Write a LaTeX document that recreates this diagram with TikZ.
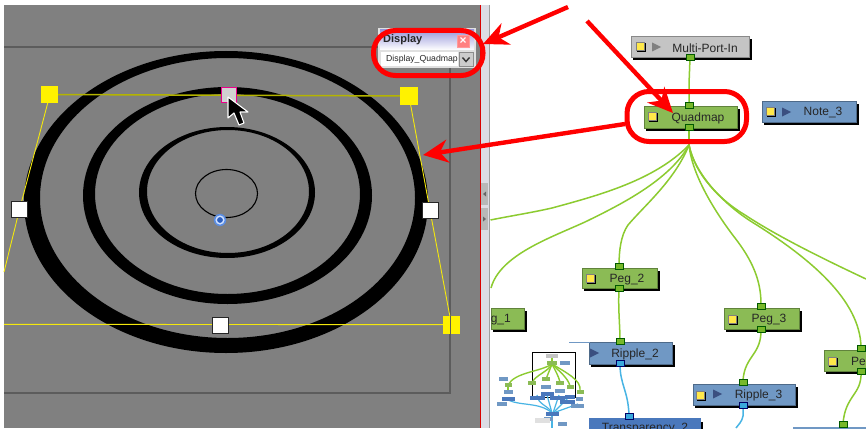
\documentclass[tikz,border=0pt]{standalone}
\usepackage{fontspec}
\setmainfont{Liberation Sans}
\usetikzlibrary{arrows.meta}
\definecolor{panelgray}{HTML}{808080}
\definecolor{framegray}{HTML}{5C5C5C}
\definecolor{sepgray}{HTML}{DCDCE4}
\definecolor{peggreen}{HTML}{8BBB55}
\definecolor{nodeblue}{HTML}{7098C4}
\definecolor{deepblue}{HTML}{4A78BC}
\definecolor{modgray}{HTML}{C4C4C4}
\definecolor{portgreen}{HTML}{77B82A}
\definecolor{portblue}{HTML}{3AA9DC}
\definecolor{wiregreen}{HTML}{8CCB30}
\definecolor{wireblue}{HTML}{48B4E4}
\definecolor{hlyellow}{HTML}{FFE84A}
\definecolor{tridark}{HTML}{3A4F80}
\definecolor{dotblue}{HTML}{5B8DE0}
\definecolor{dotlight}{HTML}{CFE0FF}
\definecolor{dotcore}{HTML}{2B5FC0}
\definecolor{olivey}{HTML}{B4B400}
\tikzset{
  x=1pt,y=-1pt,
  modbox/.style={draw=#1!70!black,fill=#1,line width=.8pt,minimum height=20pt,inner sep=0pt,anchor=center},
  pgreen/.style={modbox=peggreen},
  pblue/.style={modbox=nodeblue},
  pgray/.style={modbox=modgray},
  modtext/.style={inner sep=0pt,font=\fontsize{12}{13}\selectfont,text=black!85},
  portg/.style={draw=green!35!black,fill=portgreen,line width=.4pt,minimum width=8pt,minimum height=6pt,inner sep=0pt},
  portb/.style={draw=blue!40!black,fill=portblue,line width=.4pt,minimum width=8pt,minimum height=6pt,inner sep=0pt},
  wireg/.style={draw=wiregreen,line width=1.5pt},
  wireb/.style={draw=wireblue,line width=1.5pt},
  redmark/.style={draw=red,line width=5pt,rounded corners=22pt},
  redarrow/.style={draw=red,line width=4.4pt,-{Stealth[length=25pt,width=23pt,inset=8pt]}},
  yline/.style={draw=yellow!95!black,line width=.9pt},
  yhandle/.style={fill=yellow,draw=none,minimum size=17.5pt,inner sep=0pt},
  whandle/.style={fill=white,draw=black!85,line width=.9pt,minimum size=16pt,inner sep=0pt},
  minibox/.style={draw=none,inner sep=0pt,minimum width=#1,minimum height=3.2pt},
}
\newcommand{\modshadow}[4]{\fill[black] (#1+2,#2+3) rectangle (#3+3,#4+3);}
\newcommand{\yellowchip}[2]{\fill[black] (#1+1,#2+1) rectangle (#1+10,#2+10);\draw[black!50,fill=hlyellow,line width=.4pt] (#1,#2) rectangle (#1+8,#2+8);}
\newcommand{\playtri}[2]{\fill[#2] (#1) ++(-4,-4.5) -- ++(9,4.5) -- ++(-9,4.5) -- cycle;}
\begin{document}
\begin{tikzpicture}
\useasboundingbox (0,0) rectangle (866,428);
\fill[white] (0,0) rectangle (866,428);
% viewer panel
\fill[panelgray] (4,5) rectangle (480,428);
\draw[framegray,line width=1.2pt] (4,47) -- (450,47) -- (450,393) -- (4,393);
\fill[sepgray] (480,5) rectangle (489,428);
\draw[black!38,line width=1.5pt] (489.5,5) -- (489.5,428);
\draw[red!85!black,line width=.6pt] (480,5) -- (480,428);
\fill[black!28] (481,183) rectangle (488,205);
\fill[black!28] (481,208) rectangle (488,230);
\fill[black!60] (483,194) -- (486,191.5) -- (486,196.5) -- cycle;
\fill[black!60] (486,219) -- (483,216.5) -- (483,221.5) -- cycle;
% rings
\fill[black,even odd rule] (226,202) ellipse [x radius=202,y radius=151] (227.5,198) ellipse [x radius=187.5,y radius=140];
\fill[black,even odd rule] (227.5,195.5) ellipse [x radius=144.5,y radius=108.5] (227.5,194) ellipse [x radius=132.5,y radius=100];
\fill[black,even odd rule] (227,192.5) ellipse [x radius=88,y radius=65.5] (228,191.5) ellipse [x radius=81,y radius=61.5];
\draw[black,line width=1.1pt] (226.5,193.5) ellipse [x radius=31,y radius=24];
% yellow envelope
\draw[draw=olivey,line width=1.5pt] (50,94.5) -- (409,96);
\draw[yline] (50,94.5) -- (19.5,209.5) -- (4,272);
\draw[yline] (409,96) -- (430,210.5) -- (451.5,325);
\draw[yline] (4,324.3) -- (451.5,324.7);
\node[yhandle] (h1) at (49.5,94.5) {};
\node[yhandle] (h2) at (409,96) {};
\node[yhandle] (h3) at (451.5,325) {};
\draw[framegray,line width=.6pt] (450,316) -- (450,334);
\node[whandle] (w1) at (19.5,209.5) {};
\node[whandle] (w2) at (430,210.5) {};
\node[whandle] (w3) at (220.5,325) {};
\node[draw=magenta,fill=black!18,line width=.8pt,minimum size=15.5pt,inner sep=0pt] (h4) at (229,95) {};
\fill[dotblue] (220,220) circle (6.2pt);
\fill[dotlight] (220,220) circle (4.6pt);
\fill[dotcore] (220,220) circle (2.9pt);
% cursor
\draw[white,fill=black,line width=1.1pt,line join=round] (228,97) -- (228,118) -- (234,113) -- (239,125) -- (244,123) -- (240,112) -- (248,112) -- cycle;
% Display window
\fill[black!12] (378,28) rectangle (476,68);
\shade[top color=black!35!blue!40!white,bottom color=white] (380,30) rectangle (474,50);
\node[font=\bfseries\fontsize{11}{12}\selectfont,anchor=west,inner sep=0pt,text=black!85] (dtitle) at (383,40) {Display};
\node[draw=red!40,fill=red!50!white,minimum size=12pt,inner sep=0pt,font=\bfseries\fontsize{12}{12}\selectfont,text=white] (dclose) at (463,41) {×};
\fill[white] (381,52) rectangle (458,65.5);
\node[font=\fontsize{8.7}{9}\selectfont,anchor=west,inner sep=0pt,text=black!85] (dval) at (386,59) {Display\_Quadmap};
\node[draw=black!45,fill=black!20,minimum width=14pt,minimum height=14pt,inner sep=0pt] (dbtn) at (466,59.5) {};
\draw[black!80,line width=1.4pt] (462.5,57.5) -- (466,61.5) -- (469.5,57.5);
% wires
\coordinate (fan) at (689,145);
\draw[wireg] (690,58) -- (689,84) -- (689,106);
\draw[wireg] (689,128) -- (fan);
\draw[wireg] (fan) .. controls (655,180) and (600,195) .. (552,208) .. controls (530,213) and (510,216) .. (490.5,220);
\draw[wireg] (fan) .. controls (670,180) and (620,205) .. (585,222) .. controls (550,238) and (500,255) .. (491,288);
\draw[wireg] (fan) .. controls (675,180) and (645,205) .. (628,225) .. controls (621,235) and (619,250) .. (619,266);
\draw[wireg] (fan) .. controls (692,175) and (715,212) .. (735,238) .. controls (752,260) and (761,280) .. (761,304);
\draw[wireg] (fan) .. controls (695,175) and (725,205) .. (752,222) .. controls (810,258) and (860,300) .. (861,347);
\draw[wireg] (fan) .. controls (695,175) and (720,200) .. (745,215) .. controls (780,238) and (830,262) .. (866,279);
\draw[wireg] (619,288) .. controls (618,310) and (620,325) .. (620,341);
\draw[wireg] (761,328) .. controls (762,355) and (745,355) .. (743,380);
\draw[wireg] (861,372) .. controls (862,395) and (845,395) .. (843,424);
\draw[wireb] (620,364) .. controls (620,385) and (628,390) .. (629,415);
\draw[wireb] (743,405) -- (743,416) .. controls (742,422) and (738,425) .. (736,428);
% modules
\modshadow{631}{36}{749}{57}
\node[pgray,minimum width=118pt,minimum height=21pt] (mpi) at (690,46.5) {};
\node[modtext] (mpit) at (705,48) {Multi-Port-In};
\yellowchip{636}{42}
\playtri{656,47}{black!50}
\node[portg] (mpip) at (690,57) {};
\modshadow{644}{106}{737}{128}
\node[pgreen,minimum width=93pt,minimum height=22pt] (quad) at (690.5,117) {};
\node[modtext] (quadt) at (698,118.5) {Quadmap};
\yellowchip{648}{112}
\node[portg] (quadi) at (689,105.5) {};
\node[portg] (quado) at (689,127) {};
\modshadow{762}{101}{856}{122}
\node[pblue,minimum width=94pt,minimum height=21pt] (note) at (809,111.5) {};
\node[modtext] (notet) at (823,112.5) {Note\_3};
\yellowchip{766}{107}
\playtri{786,112}{tridark}
\modshadow{582}{268}{657}{288}
\node[pgreen,minimum width=75pt] (peg2) at (619.5,278) {};
\node[modtext] (peg2t) at (627,279.5) {Peg\_2};
\yellowchip{586}{274}
\node[portg] (peg2i) at (619,266) {};
\node[portg] (peg2o) at (619,288.5) {};
\modshadow{724}{308}{799}{329}
\node[pgreen,minimum width=75pt,minimum height=21pt] (peg3) at (761.5,318.5) {};
\node[modtext] (peg3t) at (769,320) {Peg\_3};
\yellowchip{728}{315}
\node[portg] (peg3i) at (761,306) {};
\node[portg] (peg3o) at (761,329.5) {};
\modshadow{824}{350}{870}{371}
\node[pgreen,minimum width=60pt,minimum height=21pt] (peg4) at (854,360.5) {};
\node[modtext,anchor=west] (peg4t) at (851,361.5) {Pe};
\yellowchip{828}{357}
\node[portg] (peg4i) at (861,348) {};
\node[portg] (peg4o) at (861,371) {};
\modshadow{491}{308}{524}{329}
\node[pgreen,minimum width=33pt,minimum height=21pt] (peg1) at (507.5,318.5) {};
\node[modtext,anchor=east] (peg1t) at (511,320) {g\_1};
\modshadow{589}{342}{672}{364}
\node[pblue,minimum width=83pt,minimum height=22pt] (rip2) at (630.5,353) {};
\draw[nodeblue,line width=1pt] (569,342) -- (590,342);
\node[modtext] (rip2t) at (635,354) {Ripple\_2};
\playtri{594,353}{tridark}
\node[portg] (rip2i) at (620,341) {};
\node[portb] (rip2o) at (620,363) {};
\modshadow{693}{384}{795}{405}
\node[pblue,minimum width=102pt,minimum height=21pt] (rip3) at (744,394.5) {};
\node[modtext] (rip3t) at (758.5,395.5) {Ripple\_3};
\yellowchip{696}{391}
\playtri{717,394}{tridark}
\node[portg] (rip3i) at (743,382) {};
\node[portb] (rip3o) at (743,405) {};
\begin{scope}
\clip (480,250) rectangle (866,428);
\fill[black] (592,422) rectangle (703,432);
\fill[deepblue] (589,418) rectangle (701,432);
\node[modtext] (trans) at (645,428.5) {Transparency\_2};
\node[portb] (transi) at (629,416) {};
\fill[nodeblue] (793,427) rectangle (866,432);
\node[portg] (peg5o) at (843,424.5) {};
\end{scope}
% navigator
\fill[white] (492,350) rectangle (588,428);
\draw[black,line width=.8pt] (532.5,352) rectangle (575.5,397);
\begin{scope}[line width=1.4pt]
\draw[wiregreen] (552,357) -- (552,364);
\draw[wiregreen] (552,364) .. controls (540,372) and (515,372) .. (508,385);
\draw[wiregreen] (552,364) .. controls (548,372) and (535,375) .. (532,383);
\draw[wiregreen] (552,364) -- (546,379);
\draw[wiregreen] (552,364) .. controls (556,372) and (558,375) .. (560,382);
\draw[wiregreen] (552,364) .. controls (560,372) and (568,378) .. (570,386);
\draw[wiregreen] (552,364) .. controls (565,372) and (582,380) .. (580,391);
\draw[wiregreen] (508,385) -- (508,392);
\draw[wireblue,line width=1.2pt] (508,400) .. controls (520,406) and (540,402) .. (552,413);
\draw[wireblue,line width=1.2pt] (537,395) .. controls (538,405) and (548,405) .. (552,413);
\draw[wireblue,line width=1.2pt] (547,395) -- (552,413);
\draw[wireblue,line width=1.2pt] (559,395) -- (553,413);
\draw[wireblue,line width=1.2pt] (568,398) -- (553,413);
\draw[wireblue,line width=1.2pt] (578,404) -- (553,413);
\draw[wireblue,line width=1.2pt] (552,413) -- (552,428);
\end{scope}
\foreach \mx/\my/\mw/\mc in {552/356/12/modgray,552/363/10/peggreen,565/363/10/nodeblue,503/379/9/nodeblue,508/385/7/peggreen,508/392/9/nodeblue,508/399/13/deepblue,502/404/10/nodeblue,532/383/8/peggreen,546/379/8/peggreen,560/383/8/peggreen,570/387/7/peggreen,580/392/7/peggreen,546/387/10/nodeblue,560/391/10/nodeblue,537/398/15/deepblue,547/394/13/deepblue,557/398/15/deepblue,570/397/10/deepblue,567/402/15/deepblue,577/406/13/nodeblue,579/399/7/nodeblue,552/414/13/deepblue,548/419/9/nodeblue,562/424/9/nodeblue} {
  \node[minibox=\mw pt,fill=\mc] at (\mx,\my) {};
}
\fill[black!12] (535,418) rectangle (550,423);
% red annotations
\draw[redmark] (373.5,30.5) rectangle (483,75.5);
\draw[redmark] (627,91.5) rectangle (746.5,141.5);
\coordinate (a1s) at (568,7);
\coordinate (a1e) at (483,44);
\coordinate (a2s) at (587,21);
\coordinate (a2e) at (673,113);
\coordinate (a3s) at (625,124);
\coordinate (a3e) at (423,155);
\draw[redarrow] (a1s) -- (a1e);
\draw[redarrow] (a2s) -- (a2e);
\draw[redarrow] (a3s) -- (a3e);
\end{tikzpicture}
\end{document}
